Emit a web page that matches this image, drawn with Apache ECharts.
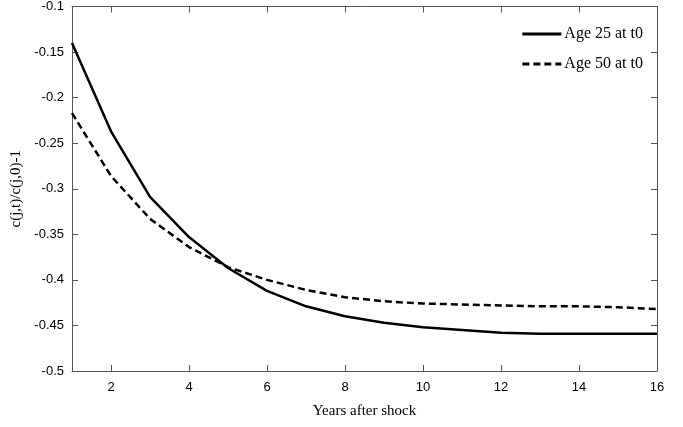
<!DOCTYPE html>
<html>
<head>
<meta charset="utf-8">
<script src="https://cdn.jsdelivr.net/npm/echarts@6/dist/echarts.min.js"></script>
<style>
  html, body { margin: 0; padding: 0; background: #fff; }
  #chart { width: 683px; height: 427px; }
</style>
</head>
<body>
<div id="chart"></div>
<script>
// years after shock
var years = [1, 2, 3, 4, 5, 6, 7, 8, 9, 10, 11, 12, 13, 14, 15, 16];
// c(j,t)/c(j,0)-1
var age25 = [-0.140, -0.237, -0.309, -0.353, -0.387, -0.412, -0.429, -0.440, -0.447, -0.452, -0.455, -0.458, -0.459, -0.459, -0.459, -0.459];
var age50 = [-0.217, -0.286, -0.333, -0.364, -0.386, -0.400, -0.411, -0.419, -0.4235, -0.426, -0.427, -0.428, -0.429, -0.429, -0.430, -0.432];
var xTicks = [2, 4, 6, 8, 10, 12, 14, 16];
var names = ["Age 25 at t0", "Age 50 at t0"];

function pairs(ys) {
  return years.map(function (x, i) { return [x, ys[i]]; });
}

var chart = echarts.init(document.getElementById("chart"));
var axisLine = {show: true, lineStyle: {color: "#555", width: 1}};
var tickFont = {color: "#000", fontFamily: "Liberation Sans", fontSize: 13};

chart.setOption({
  animation: false,
  grid: {left: 72, right: 26, top: 5, bottom: 56},
  legend: {
    orient: "vertical", right: 35, top: 21, itemWidth: 39, itemHeight: 14, itemGap: 14,
    itemStyle: {opacity: 0, borderWidth: 0},
    lineStyle: {width: 3},
    data: names,
    textStyle: {fontFamily: "Liberation Serif", fontSize: 16, color: "#000", padding: [0, 0, 0, -2]}
  },
  xAxis: [{
    type: "value", min: 1, max: 16,
    name: "Years after shock", nameLocation: "middle", nameGap: 33,
    nameTextStyle: {fontFamily: "Liberation Serif", fontSize: 15, color: "#000"},
    axisLine: axisLine,
    axisTick: {inside: true, length: 6, customValues: xTicks, lineStyle: {color: "#555"}},
    axisLabel: Object.assign({margin: 10, customValues: xTicks}, tickFont),
    splitLine: {show: false}
  }, {
    type: "value", min: 1, max: 16, position: "top",
    axisLine: axisLine,
    axisTick: {inside: true, length: 6, customValues: xTicks, lineStyle: {color: "#555"}},
    axisLabel: {show: false},
    splitLine: {show: false}
  }],
  yAxis: [{
    type: "value", min: -0.5, max: -0.1, interval: 0.05,
    name: "c(j,t)/c(j,0)-1", nameLocation: "middle", nameGap: 47,
    nameTextStyle: {fontFamily: "Liberation Serif", fontSize: 15, color: "#000"},
    axisLine: axisLine,
    axisTick: {inside: true, length: 6, lineStyle: {color: "#555"}},
    axisLabel: Object.assign({margin: 8, formatter: function (v) { return String(+v.toFixed(2)); }}, tickFont),
    splitLine: {show: false}
  }, {
    type: "value", min: -0.5, max: -0.1, interval: 0.05, position: "right",
    axisLine: axisLine,
    axisTick: {inside: true, length: 6, lineStyle: {color: "#555"}},
    axisLabel: {show: false},
    splitLine: {show: false}
  }],
  series: [{
    name: names[0], type: "line", symbol: "none", data: pairs(age25),
    lineStyle: {color: "#000", width: 2.5, type: "solid"},
    itemStyle: {color: "#000"}
  }, {
    name: names[1], type: "line", symbol: "none", data: pairs(age50),
    lineStyle: {color: "#000", width: 2.5, type: [7, 4]},
    itemStyle: {color: "#000"}
  }]
});
</script>
</body>
</html>
